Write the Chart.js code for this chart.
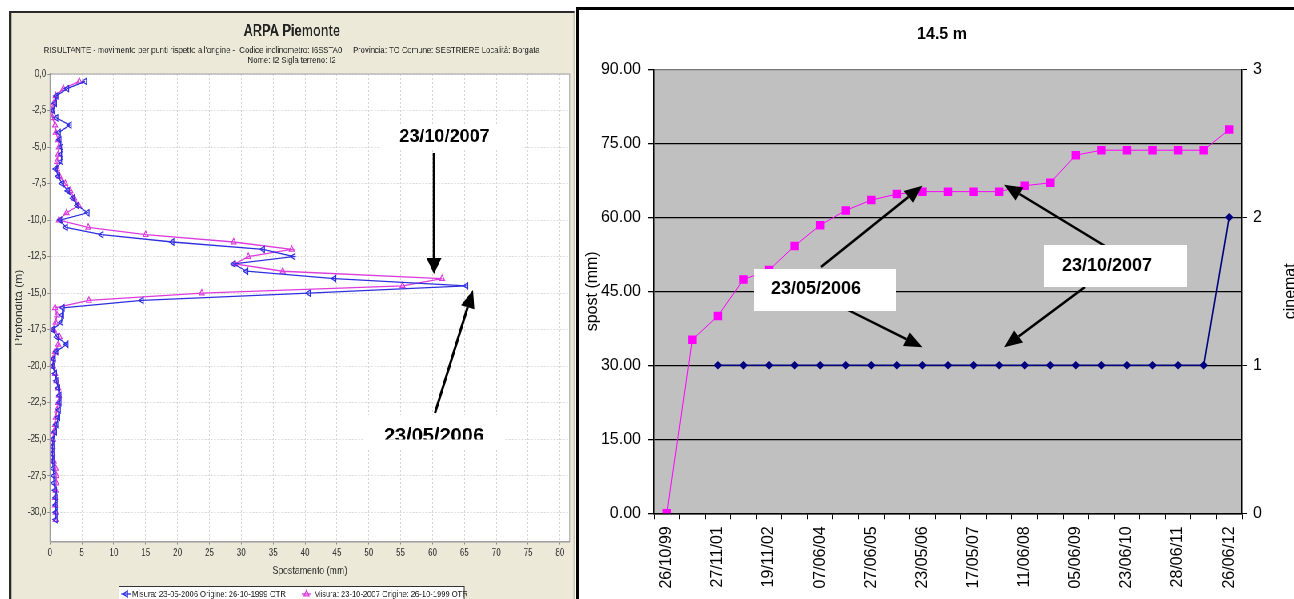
<!DOCTYPE html>
<html>
<head>
<meta charset="utf-8">
<script src="https://cdn.jsdelivr.net/npm/chart.js@4.4.1/dist/chart.umd.min.js"></script>
<style>
  html, body { margin: 0; padding: 0; width: 1294px; height: 599px; overflow: hidden; background: #fff; }
  /* left panel is drawn wide and narrowed horizontally (condensed look of the inclinometer report) */
  #leftPanel {
    position: absolute; left: 9px; top: 11px; width: 707px; height: 588px;
    box-sizing: border-box; overflow: hidden;
    border-left: 3px solid #2a2a2a; border-top: 2px solid #2a2a2a; border-right: 1px solid #9c9c80;
    background: #ECE9D8; transform: scaleX(0.8); transform-origin: 0 0;
  }
  #rightPanel {
    position: absolute; left: 576px; top: 7px; width: 718px; height: 592px;
    box-sizing: border-box; overflow: hidden;
    border-left: 3px solid #000; border-top: 3px solid #000; background: #fff;
  }
  canvas { display: block; }
</style>
</head>
<body>
<div id="leftPanel"><canvas id="profile" width="703" height="586"></canvas></div>
<div id="rightPanel"><canvas id="trend" width="715" height="589"></canvas></div>

<script>
const FONT = "'Liberation Sans', Arial, sans-serif";

// ---------- inclinometer profile (left) ----------
const depthM = [-0.5, -1, -1.5, -2, -2.5, -3, -3.5, -4, -4.5, -5, -5.5, -6, -6.5, -7, -7.5, -8, -8.5, -9, -9.5, -10,
  -10.5, -11, -11.5, -12, -12.5, -13, -13.5, -14, -14.5, -15, -15.5, -16, -16.5, -17, -17.5, -18, -18.5, -19, -19.5, -20,
  -20.5, -21, -21.5, -22, -22.5, -23, -23.5, -24, -24.5, -25, -25.5, -26, -26.5, -27, -27.5, -28, -28.5, -29, -29.5, -30, -30.5];

const spost2006 = [5.5, 2.7, 1.0, 0.8, 0.5, 1.0, 3.1, 1.4, 1.5, 1.8, 1.8, 1.8, 0.9, 1.3, 1.9, 2.8, 3.6, 4.3, 5.9, 1.6,
  2.5, 8.1, 19.2, 33.4, 38.2, 28.8, 30.8, 44.6, 65.3, 40.6, 14.4, 2.0, 1.9, 1.8, 0.4, 1.1, 2.6, 1.0, 0.6, 0.4,
  0.8, 1.0, 1.3, 1.5, 1.5, 1.4, 1.3, 1.0, 0.8, 0.5, 0.4, 0.4, 0.4, 0.5, 0.6, 0.6, 0.8, 0.9, 0.9, 0.9, 0.9];

const spost2007 = [4.6, 2.1, 0.9, 0.6, 0.3, 0.4, 0.8, 0.9, 1.3, 1.4, 1.3, 1.1, 1.1, 1.5, 2.4, 3.2, 3.8, 4.5, 2.6, 1.4,
  6.0, 15.0, 28.8, 37.9, 31.1, 29.0, 36.5, 61.5, 55.3, 23.8, 6.1, 0.8, 1.1, 0.9, 0.6, 1.5, 1.3, 0.8, 0.5, 0.5,
  0.8, 1.0, 1.3, 1.4, 1.3, 1.1, 0.9, 0.8, 0.6, 0.5, 0.4, 0.4, 0.6, 0.9, 1.0, 1.0, 0.9, 0.8, 0.8, 0.9, 0.9];

const profileTitle = 'ARPA Piemonte';
const profileSubtitle = [
  "RISULTANTE - movimento per punti rispetto all'origine -  Codice inclinometro: I6SSTA0     Provincia: TO Comune: SESTRIERE Località: Borgata",
  'Nome: I2 Sigla terreno: I2'
];
const seriesNames = ['Misura: 23-05-2006 Origine: 26-10-1999 OTR', 'Misura: 23-10-2007 Origine: 26-10-1999 OTR'];

const BLUE = '#2f2fe0';
const MAGENTA = '#dc3cdc';

// ---------- displacement at 14.5 m vs time (right) ----------
const dateLabels = ['26/10/99', '', '27/11/01', '', '19/11/02', '', '07/06/04', '', '27/06/05', '', '23/05/06', '',
  '17/05/07', '23/10/07', '11/06/08', '', '05/06/09', '', '23/06/10', '', '28/06/11', '', '26/06/12'];
const spostMm = [0, 35.2, 40.0, 47.4, 49.3, 54.2, 58.4, 61.4, 63.5, 64.7, 65.2, 65.2, 65.2, 65.2, 66.4, 67.0,
  72.6, 73.6, 73.6, 73.6, 73.6, 73.6, 77.8];
const cinematica = [null, null, 1, 1, 1, 1, 1, 1, 1, 1, 1, 1, 1, 1, 1, 1, 1, 1, 1, 1, 1, 1, 2];

function drawArrow(ctx, x1, y1, x2, y2, lw, headLen, headW) {
  const a = Math.atan2(y2 - y1, x2 - x1);
  const bx = x2 - headLen * Math.cos(a), by = y2 - headLen * Math.sin(a);
  ctx.save();
  ctx.strokeStyle = '#000'; ctx.fillStyle = '#000'; ctx.lineWidth = lw;
  ctx.beginPath(); ctx.moveTo(x1, y1); ctx.lineTo(bx, by); ctx.stroke();
  const nx = -Math.sin(a) * headW / 2, ny = Math.cos(a) * headW / 2;
  ctx.beginPath(); ctx.moveTo(x2, y2); ctx.lineTo(bx + nx, by + ny); ctx.lineTo(bx - nx, by - ny);
  ctx.closePath(); ctx.fill();
  ctx.restore();
}

// plot background, frame, titles, legend and callouts of the profile chart
const profileDecor = {
  id: 'profileDecor',
  beforeDraw(chart) {
    const { ctx, chartArea: a } = chart;
    ctx.save();
    ctx.fillStyle = '#fff';
    ctx.fillRect(a.left, a.top, a.right - a.left, a.bottom - a.top);
    ctx.restore();
  },
  afterDatasetsDraw(chart) {
    const { ctx, chartArea: a } = chart;
    ctx.save();
    ctx.strokeStyle = '#a0a0a0'; ctx.lineWidth = 1;
    ctx.strokeRect(a.left, a.top, a.right - a.left, a.bottom - a.top);
    ctx.restore();
  },
  afterDraw(chart) {
    const { ctx } = chart;
    const cx = chart.width / 2 - 1;
    ctx.save();
    ctx.fillStyle = '#222';
    ctx.textAlign = 'center'; ctx.textBaseline = 'middle';
    ctx.font = 'bold 16px ' + FONT;
    ctx.fillText(profileTitle, cx, 18.5);
    ctx.font = '9.7px ' + FONT;
    ctx.fillText(profileSubtitle[0], cx, 37);
    ctx.fillText(profileSubtitle[1], cx, 47.5);

    // legend
    ctx.fillStyle = '#fff';
    ctx.fillRect(134.5, 573, 431.5, 20);
    ctx.strokeStyle = '#333'; ctx.lineWidth = 1;
    ctx.strokeRect(134.5, 573.5, 431.5, 20);
    const items = [
      { color: BLUE, rot: 270, sx: 143.3, tx: 150.8, name: seriesNames[0] },
      { color: MAGENTA, rot: 0, sx: 368.9, tx: 378.3, name: seriesNames[1] }
    ];
    const ly = 581;
    items.forEach(it => {
      ctx.strokeStyle = it.color; ctx.lineWidth = 1.3;
      ctx.beginPath(); ctx.moveTo(it.sx - 6, ly); ctx.lineTo(it.sx + 6, ly); ctx.stroke();
      ctx.fillStyle = 'rgba(255,255,255,0)';
      Chart.helpers.drawPoint(ctx, { pointStyle: 'triangle', rotation: it.rot, radius: 3.6, borderWidth: 1.2 }, it.sx, ly);
      ctx.fillStyle = '#222';
      ctx.font = '9.5px ' + FONT; ctx.textAlign = 'left'; ctx.textBaseline = 'middle';
      ctx.fillText(it.name, it.tx, ly);
    });
    ctx.restore();

    // callouts, drawn in page pixels (undo the horizontal narrowing)
    ctx.save();
    ctx.setTransform(1.25, 0, 0, 1, -14.25, -13);
    drawArrow(ctx, 434, 153, 434, 274, 2.5, 16, 15);
    drawArrow(ctx, 435, 413, 473, 290, 2.5, 18, 14);
    ctx.fillStyle = '#fff';
    ctx.fillRect(381, 124, 141, 24);
    ctx.fillRect(363, 415, 142, 33);
    ctx.fillStyle = '#000';
    ctx.textAlign = 'center'; ctx.textBaseline = 'middle';
    ctx.font = 'bold 18px ' + FONT;
    ctx.fillText('23/10/2007', 444.5, 137);
    ctx.save();
    ctx.beginPath(); ctx.rect(363, 415, 142, 24.5); ctx.clip();
    ctx.font = 'bold 20px ' + FONT; ctx.textBaseline = 'alphabetic';
    ctx.fillText('23/05/2006', 434, 441.5);
    ctx.restore();
    ctx.restore();
  }
};

new Chart(document.getElementById('profile'), {
  type: 'scatter',
  data: {
    datasets: [
      {
        label: seriesNames[0],
        data: depthM.map((d, i) => ({ x: spost2006[i], y: d })),
        showLine: true, borderColor: BLUE, borderWidth: 1.3,
        pointStyle: 'triangle', pointRotation: 270, pointRadius: 3.6,
        pointBackgroundColor: 'rgba(255,255,255,0)', pointBorderColor: BLUE, pointBorderWidth: 1.2
      },
      {
        label: seriesNames[1],
        data: depthM.map((d, i) => ({ x: spost2007[i], y: d })),
        showLine: true, borderColor: MAGENTA, borderWidth: 1.3,
        pointStyle: 'triangle', pointRotation: 0, pointRadius: 3.6,
        pointBackgroundColor: 'rgba(255,255,255,0)', pointBorderColor: MAGENTA, pointBorderWidth: 1.2
      }
    ]
  },
  options: {
    responsive: false, animation: false, devicePixelRatio: 1,
    layout: { padding: { left: 0, right: 2.75, top: 61, bottom: 20 } },
    plugins: { legend: { display: false }, tooltip: { enabled: false } },
    scales: {
      x: {
        type: 'linear', min: 0, max: 81.5,
        ticks: { stepSize: 5, includeBounds: false, autoSkip: false, maxRotation: 0, padding: 3,
          color: '#333', font: { family: FONT, size: 10 } },
        grid: { color: '#d6d6d6', tickColor: '#888', tickLength: 3 },
        border: { color: '#999', width: 1.5, dash: [2, 2] },
        title: { display: true, text: 'Spostamento (mm)', color: '#333', font: { family: FONT, size: 11 },
          padding: { top: 0, bottom: 1 } },
        afterFit(s) { s.height = 37.5; }
      },
      y: {
        type: 'linear', min: -32, max: 0,
        ticks: { stepSize: 2.5, includeBounds: false, padding: 2, color: '#333', font: { family: FONT, size: 10 },
          callback: v => v.toFixed(1).replace('.', ',') },
        grid: { color: '#d6d6d6', tickColor: '#888', tickLength: 3 },
        border: { color: '#999', width: 1.5, dash: [2, 2] },
        title: { display: true, text: 'Profondità (m)', color: '#333', font: { family: FONT, size: 12 },
          padding: { top: 2, bottom: 0 } },
        afterFit(s) { s.width = 48.25; }
      }
    }
  },
  plugins: [profileDecor]
});

// gray plot area, chart title, right-axis title and callouts of the time chart
const trendDecor = {
  id: 'trendDecor',
  beforeDraw(chart) {
    const { ctx, chartArea: a } = chart;
    ctx.save();
    ctx.fillStyle = '#c0c0c0';
    ctx.fillRect(a.left, a.top, a.right - a.left, a.bottom - a.top);
    ctx.restore();
  },
  afterDraw(chart) {
    const { ctx } = chart;
    const xs = chart.scales.x, ys = chart.scales.y, y1 = chart.scales.y1;
    ctx.save();
    ctx.fillStyle = '#000';
    ctx.font = 'bold 16px ' + FONT;
    ctx.textAlign = 'center'; ctx.textBaseline = 'middle';
    ctx.fillText('14.5 m', 363, 25);

    ctx.save();
    ctx.translate(715.5, (chart.chartArea.top + chart.chartArea.bottom) / 2);
    ctx.rotate(-Math.PI / 2);
    ctx.font = '16px ' + FONT; ctx.textBaseline = 'alphabetic';
    ctx.fillText('cinemat', 0, 0);
    ctx.restore();

    const iA = dateLabels.indexOf('23/05/06');
    const iB = dateLabels.indexOf('23/10/07');
    const xA = xs.getPixelForValue(iA), xB = xs.getPixelForValue(iB) + 5;
    drawArrow(ctx, 242, 257, xA, ys.getPixelForValue(spostMm[iA]) - 6, 2.5, 18, 15);
    drawArrow(ctx, 526, 236, xB, ys.getPixelForValue(spostMm[iB]) - 7, 2.5, 18, 15);
    drawArrow(ctx, 263, 297, xA, y1.getPixelForValue(cinematica[iA]) - 18, 2.5, 18, 15);
    drawArrow(ctx, 506, 277, xB, y1.getPixelForValue(cinematica[iB]) - 18, 2.5, 18, 15);

    ctx.fillStyle = '#fff';
    ctx.fillRect(175, 259, 142, 42);
    ctx.fillRect(465, 235, 143, 42);
    ctx.fillStyle = '#000';
    ctx.font = 'bold 18px ' + FONT; ctx.textAlign = 'left'; ctx.textBaseline = 'middle';
    ctx.fillText('23/05/2006', 192, 279);
    ctx.fillText('23/10/2007', 483, 256);
    ctx.restore();
  }
};

new Chart(document.getElementById('trend'), {
  type: 'line',
  data: {
    labels: dateLabels,
    datasets: [
      {
        label: 'spost (mm)', data: spostMm, yAxisID: 'y',
        borderColor: '#ff00ff', borderWidth: 1, tension: 0,
        pointStyle: 'rect', pointRadius: 6, pointBackgroundColor: '#ff00ff', pointBorderWidth: 0
      },
      {
        label: 'cinemat', data: cinematica, yAxisID: 'y1',
        borderColor: '#000080', borderWidth: 1.6, tension: 0,
        pointStyle: 'rectRot', pointRadius: 4.3, pointBackgroundColor: '#000080', pointBorderColor: '#000080', pointBorderWidth: 0
      }
    ]
  },
  options: {
    responsive: false, animation: false, devicePixelRatio: 1,
    layout: { padding: { left: 0, right: 0, top: 59.3, bottom: 0 } },
    plugins: { legend: { display: false }, tooltip: { enabled: false } },
    scales: {
      x: {
        type: 'category', offset: true,
        grid: { offset: true, drawOnChartArea: false, tickLength: 6, color: '#000' },
        border: { color: '#000', width: 1.5 },
        ticks: { autoSkip: false, minRotation: 90, maxRotation: 90, padding: 7, color: '#000',
          font: { family: FONT, size: 16 },
          callback(v, i) { return i % 2 === 0 ? this.getLabelForValue(v) : ''; } },
        afterFit(s) { s.height = 85.7; }
      },
      y: {
        position: 'left', min: 0, max: 90,
        ticks: { stepSize: 15, padding: 7, color: '#000', font: { family: FONT, size: 16 },
          callback: v => v.toFixed(2) },
        grid: { color: c => (c.tick && c.tick.value === 90 ? '#777' : '#000'), tickColor: '#000', tickLength: 6, lineWidth: 1.3 },
        border: { color: '#000', width: 1.5 },
        title: { display: true, text: 'spost (mm)', color: '#000', font: { family: FONT, size: 16 },
          padding: { top: 4, bottom: 0 } },
        afterFit(s) { s.width = 75; }
      },
      y1: {
        position: 'right', min: 0, max: 3,
        ticks: { stepSize: 1, padding: 6, color: '#000', font: { family: FONT, size: 16 } },
        grid: { drawOnChartArea: false, tickLength: 5, color: '#000' },
        border: { color: '#000', width: 1.5 },
        afterFit(s) { s.width = 52; }
      }
    }
  },
  plugins: [trendDecor]
});
</script>
</body>
</html>
